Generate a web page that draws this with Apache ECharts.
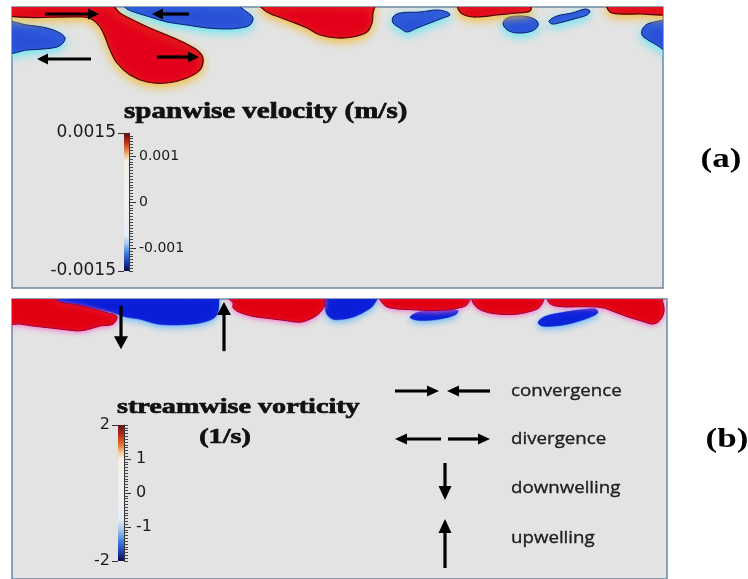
<!DOCTYPE html>
<html>
<head>
<meta charset="utf-8">
<style>
  html, body { margin: 0; padding: 0; background: #ffffff; }
  #chart { width: 748px; height: 579px; }
</style>
<script src="https://cdn.jsdelivr.net/npm/echarts@6/dist/echarts.min.js"></script>
</head>
<body>
<div id="chart"></div>
<script>
// Near-surface structures of a cross-stream slice.
// Each outline is a list of [spanwise position, depth] pairs (domain units, depth grows downward).

// (a) spanwise velocity: positive (red) and negative (blue) regions
const velocityPositive = [
  [[-3,-3],[98,-3],[108,6],[121,13],[138,21],[155,28],[171,35],[185,43],[191,51],[188,63],[175,71],[155,76],[135,75],[118,68],[105,56],[98,43],[93,30],[88,20],[81,13],[71,10],[-3,9]],
  [[248,-3],[255,5],[275,13],[295,21],[308,28],[325,31],[341,30],[355,25],[360,16],[361,6],[362,-3]],
  [[446,-3],[518,-3],[518,4],[505,6],[485,8],[465,10],[455,9],[448,5]],
  [[595,-3],[658,-3],[658,7],[628,7],[608,7],[598,5]]
];
const velocityNegative = [
  [[-3,16],[15,18],[35,21],[48,26],[53,31],[51,36],[45,40],[31,42],[15,43],[-3,45]],
  [[111,-3],[221,-3],[235,5],[241,11],[238,18],[228,21],[215,22],[195,21],[175,18],[155,15],[138,10],[125,6],[115,2]],
  [[381,10],[388,6],[408,5],[425,3],[435,5],[438,8],[431,11],[418,16],[405,21],[395,25],[388,21],[381,16]],
  [[491,17],[495,11],[505,9],[517,10],[525,14],[526,19],[520,24],[508,26],[497,24]],
  [[537,14],[545,9],[560,6],[573,2],[578,4],[575,8],[562,12],[547,16],[540,17]],
  [[658,15],[638,16],[631,21],[630,28],[636,33],[643,37],[658,45]]
];

// (b) streamwise vorticity: positive (red) and negative (blue) regions
const vorticityPositive = [
  [[-3,-3],[38,-3],[48,3],[65,6],[81,10],[95,14],[105,18],[101,26],[88,28],[78,31],[68,33],[55,32],[38,30],[21,28],[8,26],[-3,25]],
  [[215,-3],[221,4],[221,9],[228,14],[241,18],[255,20],[271,22],[288,24],[298,21],[306,16],[311,10],[313,5],[310,-3]],
  [[368,-3],[458,-3],[455,6],[448,9],[438,11],[418,12],[398,11],[383,10],[373,7]],
  [[461,-3],[531,-3],[528,8],[518,13],[501,16],[481,15],[468,11],[461,4]],
  [[536,-3],[648,-3],[651,4],[652,13],[648,22],[641,26],[630,23],[617,19],[604,14],[590,9],[570,8],[550,8],[538,5]]
];
const vorticityNegative = [
  [[33,-3],[205,-3],[207,6],[206,13],[203,19],[195,23],[181,26],[161,27],[145,26],[128,21],[115,19],[100,14],[80,9],[60,5],[40,2],[33,0]],
  [[313,-3],[365,-3],[361,7],[353,13],[343,18],[331,21],[321,21],[315,16],[313,9]],
  [[398,19],[405,14],[420,12],[435,11],[446,12],[444,16],[432,20],[418,22],[405,22]],
  [[526,24],[533,18],[550,14],[570,11],[583,10],[586,14],[578,19],[560,25],[543,28],[530,28]]
];

// Flow arrows [tail span, tail depth, head span, head depth]
const velocityArrows = [[33,7,87,7],[177,7,140,7],[79,52,25,52],[145,50,187,50]];
const vorticityArrows = [[109,7,109,52],[212,54,212,3]];

// Domain extents (span, depth)
const velocityDomain = [651, 281];
const vorticityDomain = [655, 290];

// Colour bar ranges and labelled values
const velocityRange = [-0.0015, 0.0015];
const velocityEndTicks = [-0.0015, 0.0015];
const velocityInnerTicks = [-0.001, 0, 0.001];
const vorticityRange = [-2, 2];
const vorticityEndTicks = [-2, 2];
const vorticityInnerTicks = [-1, 0, 1];

const legendLabels = ['convergence', 'divergence', 'downwelling', 'upwelling'];

// Diverging colour maps, top (max) to bottom (min)
const velocityColormap = [
  [0, '#5c0d0d'], [0.06, '#b02a1c'], [0.11, '#de6a2c'], [0.16, '#f2c48a'], [0.2, '#f5eee4'],
  [0.5, '#f2f2f2'], [0.74, '#e6edf5'], [0.8, '#a9c9ee'], [0.87, '#3f7fdc'], [0.94, '#1a3aa8'], [1, '#0b0b4a']
];
const vorticityColormap = [
  [0, '#6a0f0f'], [0.08, '#c0301c'], [0.15, '#e37a33'], [0.2, '#f3cc94'], [0.25, '#f4efe6'],
  [0.5, '#f2f2f2'], [0.7, '#e4ecf5'], [0.77, '#a6c6ec'], [0.86, '#3d7bdb'], [0.94, '#1b38a8'], [1, '#0a0a48']
];

function minorTickValues(range, count) {
  const out = [];
  for (let i = 0; i <= count; i++) out.push(range[0] + (range[1] - range[0]) * i / count);
  return out;
}

function arrowShape(t, h, headLen, headW, width) {
  const dx = h[0] - t[0], dy = h[1] - t[1];
  const L = Math.hypot(dx, dy);
  const ux = dx / L, uy = dy / L;
  const bx = h[0] - ux * headLen, by = h[1] - uy * headLen;
  const px = -uy, py = ux;
  return {
    type: 'group',
    children: [
      { type: 'line', shape: { x1: t[0], y1: t[1], x2: bx + ux, y2: by + uy },
        style: { stroke: '#000', lineWidth: width } },
      { type: 'polygon',
        shape: { points: [[h[0], h[1]], [bx + px * headW / 2, by + py * headW / 2], [bx - px * headW / 2, by - py * headW / 2]] },
        style: { fill: '#000' } }
    ]
  };
}

function regionSeries(outlines, axis, look) {
  return {
    type: 'custom',
    xAxisIndex: axis, yAxisIndex: axis,
    clip: true, silent: true, z: look.z,
    data: outlines.map((o, i) => [o[0][0], o[0][1], i]),
    renderItem(params, api) {
      const pts = outlines[api.value(2)].map(p => api.coord(p));
      return {
        type: 'polygon',
        shape: { points: pts, smooth: 0.35 },
        style: {
          fill: look.fill, stroke: look.stroke, lineWidth: look.lineWidth,
          shadowBlur: look.blur, shadowColor: look.halo, shadowOffsetY: look.dy
        }
      };
    }
  };
}

function arrowSeries(arrows, axis, headLen, headW) {
  return {
    type: 'custom',
    xAxisIndex: axis, yAxisIndex: axis,
    silent: true, z: 20,
    data: arrows,
    renderItem(params, api) {
      const t = api.coord([api.value(0), api.value(1)]);
      const h = api.coord([api.value(2), api.value(3)]);
      return arrowShape(t, h, headLen, headW, 3.2);
    }
  };
}

function colorbarSeries(axisX, axisY, range, cmap) {
  return {
    type: 'custom',
    xAxisIndex: axisX, yAxisIndex: axisY,
    silent: true, z: 5,
    data: [[0, range[0], 1, range[1]]],
    renderItem(params, api) {
      const a = api.coord([0, api.value(3)]);
      const b = api.coord([1, api.value(1)]);
      return {
        type: 'rect',
        shape: { x: a[0], y: a[1], width: b[0] - a[0], height: b[1] - a[1] },
        style: { fill: new echarts.graphic.LinearGradient(0, 0, 0, 1, cmap.map(s => ({ offset: s[0], color: s[1] }))) }
      };
    }
  };
}

function colorbarAxes(grid, range, endTicks, innerTicks, minorCount, endFont, innerFont, innerMargin) {
  const base = { gridIndex: grid, type: 'value', min: range[0], max: range[1], splitLine: { show: false } };
  return [
    Object.assign({}, base, {
      position: 'left', axisLine: { show: false },
      axisTick: { show: true, customValues: endTicks, length: 6, lineStyle: { color: '#333', width: 1 } },
      axisLabel: { customValues: endTicks, margin: 8, fontFamily: 'DejaVu Sans', fontSize: endFont, color: '#1a1a1a' }
    }),
    Object.assign({}, base, {
      position: 'right', axisLine: { show: true, lineStyle: { color: '#333', width: 1 } },
      axisTick: { show: true, customValues: innerTicks, length: 7, lineStyle: { color: '#333', width: 1 } },
      axisLabel: { customValues: innerTicks, margin: innerMargin, fontFamily: 'DejaVu Sans', fontSize: innerFont, color: '#1a1a1a' }
    }),
    Object.assign({}, base, {
      position: 'right', axisLine: { show: false },
      axisTick: { show: true, customValues: minorTickValues(range, minorCount), length: 4, lineStyle: { color: '#444', width: 1 } },
      axisLabel: { show: false }
    })
  ];
}

const panelGrid = { show: true, backgroundColor: '#e3e3e3', borderColor: '#6b87a5', borderWidth: 1.5 };

const redA  = { fill: '#e2001a', stroke: '#4a0505', lineWidth: 1.2, halo: 'rgba(245,185,50,0.95)', blur: 9, dy: 3, z: 3 };
const blueA = { fill: '#2a4fd8', stroke: '#101c6a', lineWidth: 1, halo: 'rgba(90,230,245,0.95)', blur: 8, dy: 3, z: 2 };
const redB  = { fill: '#e10010', stroke: '#9a0030', lineWidth: 1, halo: 'rgba(255,90,200,0.85)', blur: 5, dy: 1, z: 3 };
const blueB = { fill: '#0a1ed8', stroke: '#0a1ed8', lineWidth: 0.5, halo: 'rgba(90,180,255,0.95)', blur: 6, dy: 2, z: 2 };

const titleFill = '#111111';
const titleStyle = (text, size, align) => ({
  text: text, font: 'bold ' + size + 'px "Liberation Serif"', fill: titleFill,
  stroke: titleFill, lineWidth: 0.7, align: align, verticalAlign: 'middle'
});

const option = {
  animation: false,
  grid: [
    Object.assign({ left: 12, top: 7, width: 651, height: 281 }, panelGrid),
    Object.assign({ left: 12, top: 299, width: 655, height: 290 }, panelGrid),
    { left: 124, top: 133, width: 5, height: 138, show: false },
    { left: 118, top: 425, width: 6, height: 136, show: false }
  ],
  xAxis: [
    { gridIndex: 0, type: 'value', min: 0, max: velocityDomain[0], show: false },
    { gridIndex: 1, type: 'value', min: 0, max: vorticityDomain[0], show: false },
    { gridIndex: 2, type: 'value', min: 0, max: 1, show: false },
    { gridIndex: 3, type: 'value', min: 0, max: 1, show: false }
  ],
  yAxis: [
    { gridIndex: 0, type: 'value', min: 0, max: velocityDomain[1], inverse: true, show: false },
    { gridIndex: 1, type: 'value', min: 0, max: vorticityDomain[1], inverse: true, show: false }
  ].concat(
    colorbarAxes(2, velocityRange, velocityEndTicks, velocityInnerTicks, 48, 17, 14, 10),
    colorbarAxes(3, vorticityRange, vorticityEndTicks, vorticityInnerTicks, 48, 16, 16, 12)
  ),
  series: [
    regionSeries(velocityNegative, 0, blueA),
    regionSeries(velocityPositive, 0, redA),
    arrowSeries(velocityArrows, 0, 11, 11),
    regionSeries(vorticityNegative, 1, blueB),
    regionSeries(vorticityPositive, 1, redB),
    arrowSeries(vorticityArrows, 1, 13, 14),
    colorbarSeries(2, 2, velocityRange, velocityColormap),
    colorbarSeries(3, 5, vorticityRange, vorticityColormap)
  ],
  graphic: [
    { type: 'text', x: 124, y: 112, scaleX: 1.26, z: 50, style: titleStyle('spanwise velocity (m/s)', 23, 'left') },
    { type: 'text', x: 117, y: 407, scaleX: 1.28, z: 50, style: titleStyle('streamwise vorticity', 22, 'left') },
    { type: 'text', x: 225, y: 437, scaleX: 1.28, z: 50, style: titleStyle('(1/s)', 22, 'center') },
    { type: 'text', x: 721, y: 160, scaleX: 1.25, z: 50,
      style: { text: '(a)', font: 'bold 28px "Liberation Serif"', fill: '#000', align: 'center', verticalAlign: 'middle' } },
    { type: 'text', x: 727, y: 440, scaleX: 1.25, z: 50,
      style: { text: '(b)', font: 'bold 28px "Liberation Serif"', fill: '#000', align: 'center', verticalAlign: 'middle' } },
    // legend keys
    Object.assign(arrowShape([395, 391], [439, 391], 12, 11, 3.2), { z: 50 }),
    Object.assign(arrowShape([490, 391], [447, 391], 12, 11, 3.2), { z: 50 }),
    Object.assign(arrowShape([441, 439], [395, 439], 12, 11, 3.2), { z: 50 }),
    Object.assign(arrowShape([448, 439], [490, 439], 12, 11, 3.2), { z: 50 }),
    Object.assign(arrowShape([445, 463], [445, 500], 14, 13, 3.2), { z: 50 }),
    Object.assign(arrowShape([445, 568], [445, 519], 14, 13, 3.2), { z: 50 })
  ].concat(legendLabels.map((t, i) => ({
    type: 'text', x: 511, y: [391, 439, 488, 538][i], scaleX: 1.1, z: 50,
    style: { text: t, font: '17px "Open Sans"', fill: '#202020', stroke: '#202020', lineWidth: 0.35, verticalAlign: 'middle' }
  })))
};

const chart = echarts.init(document.getElementById('chart'), null, { renderer: 'canvas' });
chart.setOption(option);
</script>
</body>
</html>
